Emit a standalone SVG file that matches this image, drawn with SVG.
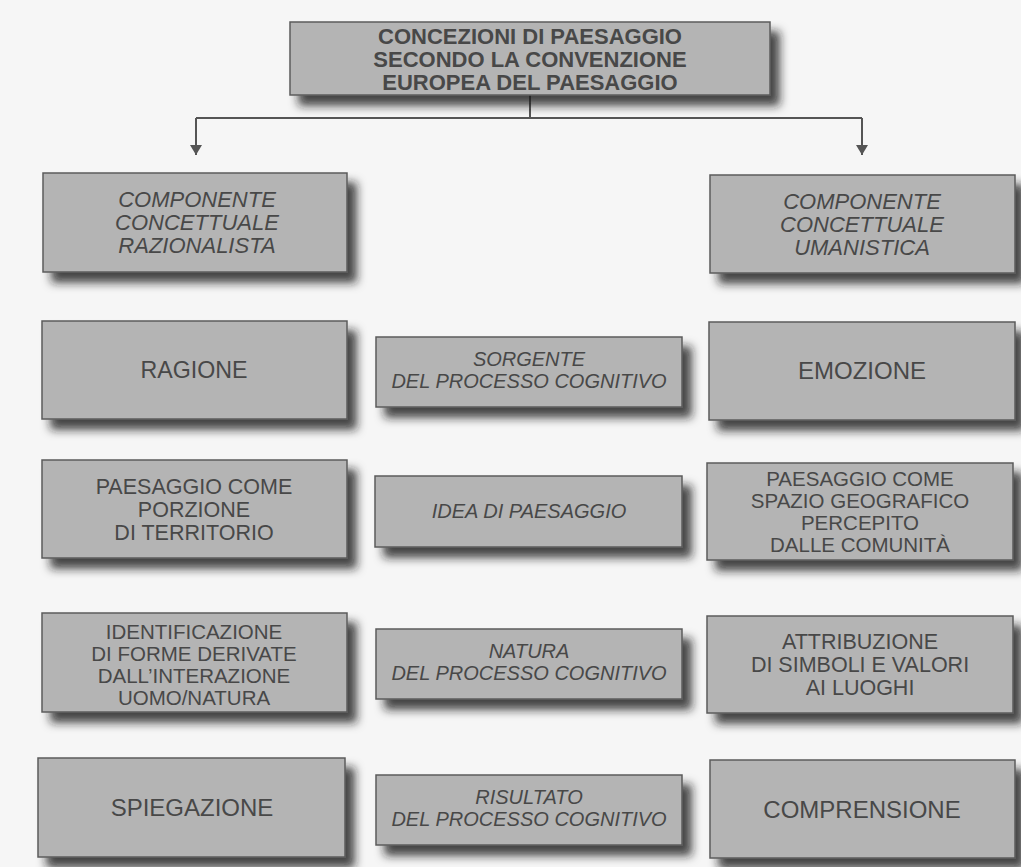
<svg xmlns="http://www.w3.org/2000/svg" width="1021" height="867" viewBox="0 0 1021 867">
<defs>
<filter id="sh" x="-10%" y="-20%" width="130%" height="160%">
<feDropShadow dx="9" dy="10" stdDeviation="5" flood-color="#1e1e1e" flood-opacity="0.8"/>
</filter>
<marker id="arr" viewBox="0 0 10 12" refX="10" refY="6" markerWidth="10" markerHeight="12" markerUnits="userSpaceOnUse" orient="auto">
<path d="M0,0 L10,6 L0,12 Z" fill="#555"/>
</marker>
<style>
.box{fill:#b4b4b4;stroke:#5c5c5c;stroke-width:1.5;filter:url(#sh)}
.t{font-family:"Liberation Sans",Arial,sans-serif;fill:#484848;text-anchor:middle}
.title{font-size:22px;font-weight:bold}
.comp{font-size:22px;font-style:italic}
.reg{font-size:21.5px}
.reg4{font-size:20.5px}
.big{font-size:24px}
.mid{font-size:20px;font-style:italic}
.con{fill:none;stroke:#555;stroke-width:2}
</style>
</defs>
<rect x="0" y="0" width="1021" height="867" fill="#f6f6f6"/>

<g id="connectors">
<path class="con" d="M530,95 V118"/>
<path class="con" d="M196,118 H862"/>
<path class="con" d="M196,118 V155" marker-end="url(#arr)"/>
<path class="con" d="M862,118 V155" marker-end="url(#arr)"/>
</g>

<g id="title">
<rect class="box" x="290" y="22" width="480" height="73"/>
<text class="t title" x="530" y="44">CONCEZIONI DI PAESAGGIO</text>
<text class="t title" x="530" y="67">SECONDO LA CONVENZIONE</text>
<text class="t title" x="530" y="90">EUROPEA DEL PAESAGGIO</text>
</g>

<g id="comp-razionalista">
<rect class="box" x="43" y="173" width="304" height="99"/>
<text class="t comp" x="197" y="207">COMPONENTE</text>
<text class="t comp" x="197" y="230">CONCETTUALE</text>
<text class="t comp" x="197" y="253">RAZIONALISTA</text>
</g>

<g id="comp-umanistica">
<rect class="box" x="710" y="175" width="305" height="98"/>
<text class="t comp" x="862" y="209">COMPONENTE</text>
<text class="t comp" x="862" y="232">CONCETTUALE</text>
<text class="t comp" x="862" y="255">UMANISTICA</text>
</g>

<g id="ragione">
<rect class="box" x="42" y="321" width="305" height="98"/>
<text class="t big" x="194" y="378" textLength="107" lengthAdjust="spacingAndGlyphs">RAGIONE</text>
</g>
<g id="sorgente">
<rect class="box" x="376" y="337" width="306" height="70"/>
<text class="t mid" x="529" y="366">SORGENTE</text>
<text class="t mid" x="529" y="388">DEL PROCESSO COGNITIVO</text>
</g>
<g id="emozione">
<rect class="box" x="709" y="322" width="306" height="98"/>
<text class="t big" x="862" y="379">EMOZIONE</text>
</g>

<g id="porzione">
<rect class="box" x="42" y="460" width="305" height="98"/>
<text class="t reg" x="194" y="494">PAESAGGIO COME</text>
<text class="t reg" x="194" y="517">PORZIONE</text>
<text class="t reg" x="194" y="540">DI TERRITORIO</text>
</g>
<g id="idea">
<rect class="box" x="375" y="476" width="307" height="71"/>
<text class="t mid" x="529" y="518">IDEA DI PAESAGGIO</text>
</g>
<g id="spazio">
<rect class="box" x="707" y="463" width="306" height="97"/>
<text class="t reg4" x="860" y="486">PAESAGGIO COME</text>
<text class="t reg4" x="860" y="508">SPAZIO GEOGRAFICO</text>
<text class="t reg4" x="860" y="530">PERCEPITO</text>
<text class="t reg4" x="860" y="552">DALLE COMUNITÀ</text>
</g>

<g id="identificazione">
<rect class="box" x="42" y="613" width="305" height="99"/>
<text class="t reg4" x="194" y="639">IDENTIFICAZIONE</text>
<text class="t reg4" x="194" y="661">DI FORME DERIVATE</text>
<text class="t reg4" x="194" y="683">DALL’INTERAZIONE</text>
<text class="t reg4" x="194" y="705">UOMO/NATURA</text>
</g>
<g id="natura">
<rect class="box" x="376" y="629" width="306" height="70"/>
<text class="t mid" x="529" y="658">NATURA</text>
<text class="t mid" x="529" y="680">DEL PROCESSO COGNITIVO</text>
</g>
<g id="attribuzione">
<rect class="box" x="707" y="616" width="306" height="97"/>
<text class="t reg" x="860" y="649">ATTRIBUZIONE</text>
<text class="t reg" x="860" y="672">DI SIMBOLI E VALORI</text>
<text class="t reg" x="860" y="695">AI LUOGHI</text>
</g>

<g id="spiegazione">
<rect class="box" x="38" y="758" width="307" height="99"/>
<text class="t big" x="192" y="816">SPIEGAZIONE</text>
</g>
<g id="risultato">
<rect class="box" x="376" y="775" width="306" height="70"/>
<text class="t mid" x="529" y="804">RISULTATO</text>
<text class="t mid" x="529" y="826">DEL PROCESSO COGNITIVO</text>
</g>
<g id="comprensione">
<rect class="box" x="710" y="760" width="305" height="98"/>
<text class="t big" x="862" y="818">COMPRENSIONE</text>
</g>
</svg>
